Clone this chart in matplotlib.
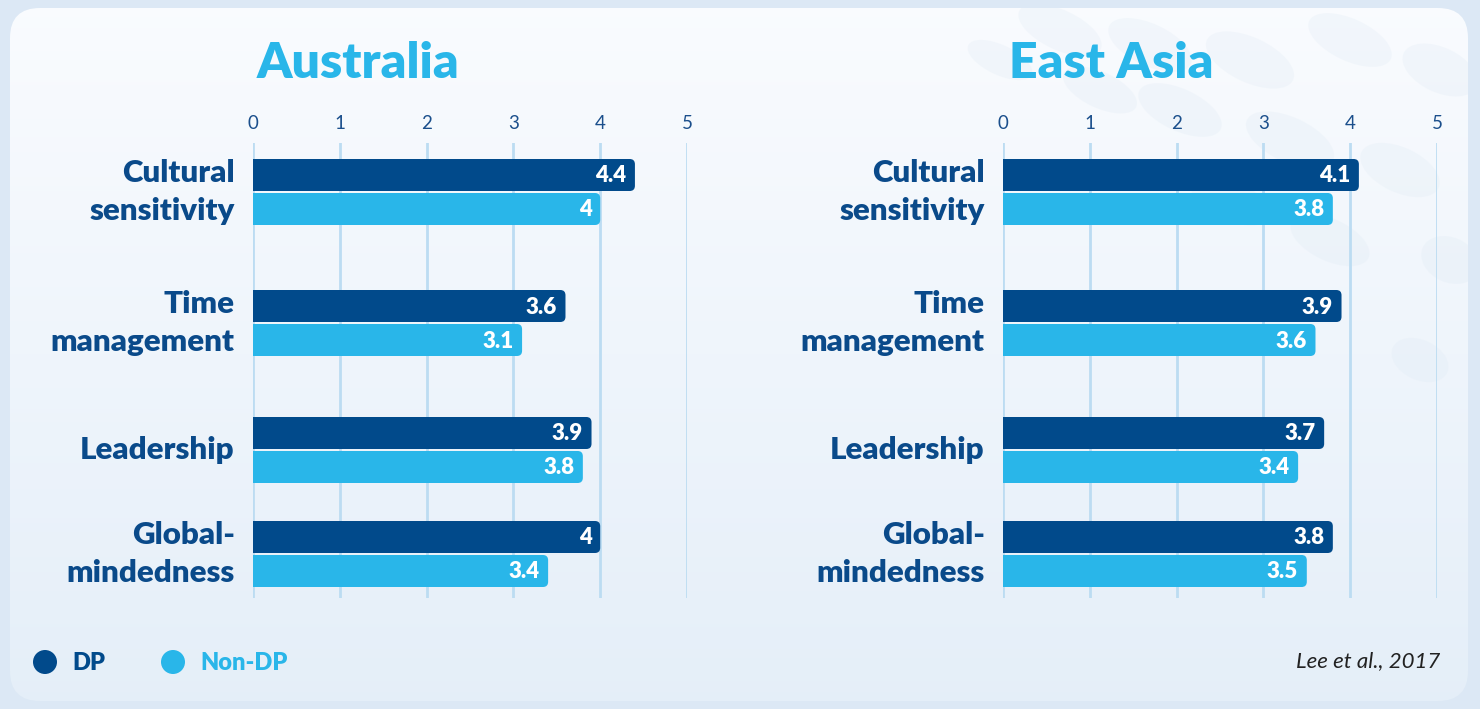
import numpy as np
import matplotlib
matplotlib.use('Agg')
import matplotlib.pyplot as plt
from matplotlib.patches import FancyBboxPatch, Ellipse, Circle

# data
categories = ['Cultural\nsensitivity', 'Time\nmanagement', 'Leadership', 'Global-\nmindedness']
regions = ['Australia', 'East Asia']
dp_values = {'Australia': [4.4, 3.6, 3.9, 4.0], 'East Asia': [4.1, 3.9, 3.7, 3.8]}
nondp_values = {'Australia': [4.0, 3.1, 3.8, 3.4], 'East Asia': [3.8, 3.6, 3.4, 3.5]}
ticks = [0, 1, 2, 3, 4, 5]
source = 'Lee et al., 2017'

DARK = '#014a8b'
LIGHT = '#29b6e9'
GRID = '#bcdcf2'
FONT = 'Lato'

W, H = 1480, 709
fig = plt.figure(figsize=(W / 100, H / 100), dpi=100)
fig.patch.set_facecolor('#dce8f5')

# background panel with a soft vertical gradient
bg = fig.add_axes([0, 0, 1, 1])
bg.set_xlim(0, W)
bg.set_ylim(H, 0)
bg.axis('off')
grad = np.linspace(0, 1, H).reshape(-1, 1)
top = np.array([249, 251, 254])
bot = np.array([228, 238, 248])
img = (top + (bot - top) * grad[..., None]).round().astype(np.uint8)
img = np.repeat(img, 4, axis=1)
im = bg.imshow(img, extent=[0, W, H, 0], aspect='auto', zorder=0, interpolation='nearest')
panel = FancyBboxPatch((10, 8), W - 22, H - 16, boxstyle='round,pad=0,rounding_size=30',
                       facecolor='none', edgecolor='none', zorder=1)
bg.add_patch(panel)
im.set_clip_path(panel)
# faint decorative ellipses top right
for cx, cy, w, h in [(1060, 30, 90, 40), (1150, 45, 90, 42), (1250, 60, 95, 45), (1350, 40, 90, 42),
                     (1440, 70, 80, 45), (1180, 110, 90, 42), (1290, 140, 95, 45), (1400, 170, 85, 45),
                     (1100, 90, 80, 36), (1450, 260, 60, 45), (1330, 240, 85, 42), (1420, 360, 60, 40),
                     (1000, 60, 70, 30), (1230, 200, 85, 40)]:
    e = Ellipse((cx, cy), w, h, angle=25, facecolor='#dde9f4', edgecolor='none', alpha=0.25, zorder=1)
    bg.add_patch(e)
    e.set_clip_path(panel)

ax_left = {'Australia': 253, 'East Asia': 1003}
title_x = {'Australia': 358, 'East Asia': 1111}
group_y = [192, 323, 450, 554]
bar_h = 32
off = 17
px_per_unit = 434 / 5

for reg in regions:
    x0 = ax_left[reg]
    ax = fig.add_axes([x0 / W, 1 - 598 / H, 434 / W, 455 / H])
    ax.set_facecolor('none')
    ax.set_xlim(0, 5)
    ax.set_ylim(598, 143)
    ax.set_xticks(ticks)
    ax.xaxis.tick_top()
    ax.tick_params(axis='x', length=0, pad=8, labelsize=13.5, labelcolor='#1b4f8c')
    for lab in ax.get_xticklabels():
        lab.set_fontfamily(FONT)
    ax.set_yticks([])
    for s in ax.spines.values():
        s.set_visible(False)
    ax.grid(axis='x', color=GRID, lw=2)
    ax.set_axisbelow(True)

    for vals, dy, col in [(dp_values[reg], -off, DARK), (nondp_values[reg], off, LIGHT)]:
        ys = [g + dy for g in group_y]
        # square left half, rounded patch for the full length
        ax.barh(ys, [v / 2 for v in vals], height=bar_h, color=col, zorder=3)
        for y, v in zip(ys, vals):
            p = FancyBboxPatch((0, y - bar_h / 2), v, bar_h,
                               boxstyle='round,pad=0,rounding_size=0.06',
                               mutation_aspect=px_per_unit,
                               facecolor=col, edgecolor='none', zorder=3)
            ax.add_patch(p)
            ax.text(v - 0.1, y + 1, '%g' % v, ha='right', va='center', color='white',
                    fontsize=16, fontweight='heavy', fontfamily=FONT, zorder=4)

    for g, c in zip(group_y, categories):
        ax.text(-0.21, g, c, ha='right', va='center', color='#0a4a8a', fontsize=22.5,
                fontweight='heavy', fontfamily=FONT, linespacing=1.45)

    fig.text(title_x[reg] / W, 1 - 64 / H, reg, ha='center', va='center', color=LIGHT,
             fontsize=36, fontweight='heavy', fontfamily=FONT)

# legend
bg.add_patch(Circle((45, 662), 12, facecolor=DARK, edgecolor='none', zorder=3))
bg.text(72, 663, 'DP', ha='left', va='center', color=DARK, fontsize=17, fontweight='heavy', fontfamily=FONT)
bg.add_patch(Circle((173, 662), 12, facecolor=LIGHT, edgecolor='none', zorder=3))
bg.text(200, 663, 'Non-DP', ha='left', va='center', color=LIGHT, fontsize=17, fontweight='heavy', fontfamily=FONT)
bg.text(1440, 661, source, ha='right', va='center', color='#222222', fontsize=16,
        fontstyle='italic', fontfamily=FONT)

fig.savefig('out.png', dpi=100, facecolor=fig.get_facecolor())
